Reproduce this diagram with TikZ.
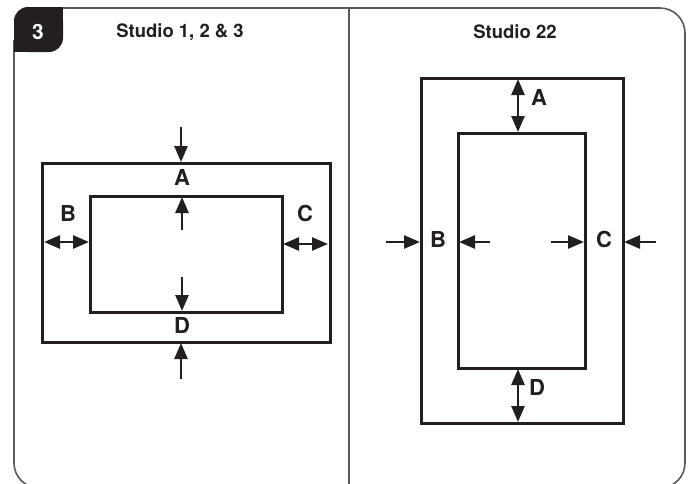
\documentclass[tikz,border=0pt]{standalone}
\usepackage{fontspec}
\setmainfont{TeX Gyre Heros}
\usetikzlibrary{arrows.meta}
\definecolor{ink}{HTML}{231F20}
\definecolor{framegray}{HTML}{5A5A5A}
\tikzset{
  box/.style={draw=ink, line width=3pt},
  frameline/.style={draw=framegray, line width=1.6pt},
  arr/.style={draw=ink, line width=2.6pt, -{Triangle[length=16pt,width=13pt]}},
  darr/.style={draw=ink, line width=2.6pt, {Triangle[length=16pt,width=13pt]}-{Triangle[length=16pt,width=13pt]}},
  lbl/.style={text=ink, font=\bfseries\fontsize{22}{24}\selectfont, inner sep=0pt},
  ttl/.style={text=ink, font=\bfseries\fontsize{18.5}{20}\selectfont, inner sep=0pt},
}
\begin{document}
\begin{tikzpicture}[x=1pt,y=-1pt]
\useasboundingbox (0,0) rectangle (694,483);
% frame
\draw[frameline, rounded corners=25pt] (63,8) -- (685,8) -- (685,488) -- (14,488) -- (14,40);
\draw[frameline] (349,8) -- (349,490);
% tab
\fill[ink, rounded corners=14pt] (14,7) rectangle (63,52);
\fill[ink] (45,7) rectangle (63,25);
\fill[ink] (14,34) rectangle (32,52);
\node[text=white, font=\bfseries\fontsize{21}{22}\selectfont, inner sep=0pt] (num) at (38,32) {3};
\node[ttl] (t1) at (180,32) {Studio 1, 2 \& 3};
\node[ttl] (t2) at (515,32) {Studio 22};
% left panel
\draw[box] (42,163) rectangle (330,342);
\draw[box] (90,196) rectangle (282,312);
\coordinate (aTop) at (181,127);
\coordinate (aTip) at (181,162);
\coordinate (iTail) at (182,230);
\coordinate (iTip) at (182,197);
\coordinate (dTail) at (182,277);
\coordinate (dTip) at (182,311);
\coordinate (bTail) at (181,379);
\coordinate (bTip) at (181,343);
\coordinate (bl1) at (44,242);
\coordinate (bl2) at (89,242);
\coordinate (cl1) at (283,244);
\coordinate (cl2) at (328,244);
\draw[arr] (aTop) -- (aTip);
\draw[arr] (iTail) -- (iTip);
\draw[arr] (dTail) -- (dTip);
\draw[arr] (bTail) -- (bTip);
\draw[darr] (bl1) -- (bl2);
\draw[darr] (cl1) -- (cl2);
\node[lbl] (LA) at (182,177) {A};
\node[lbl] (LD) at (182,325) {D};
\node[lbl] (LB) at (68,213) {B};
\node[lbl] (LC) at (305,213) {C};
% right panel
\draw[box] (421,78) rectangle (623,423);
\draw[box] (458,133) rectangle (585,368);
\coordinate (ra1) at (518,79);
\coordinate (ra2) at (518,132);
\coordinate (rd1) at (518,369);
\coordinate (rd2) at (518,422);
\coordinate (rb1) at (386,242);
\coordinate (rb2) at (420,242);
\coordinate (rb3) at (490,242);
\coordinate (rb4) at (459,242);
\coordinate (rc1) at (551,242);
\coordinate (rc2) at (584,242);
\coordinate (rc3) at (656,242);
\coordinate (rc4) at (624,242);
\draw[darr] (ra1) -- (ra2);
\draw[darr] (rd1) -- (rd2);
\draw[arr] (rb1) -- (rb2);
\draw[arr] (rb3) -- (rb4);
\draw[arr] (rc1) -- (rc2);
\draw[arr] (rc3) -- (rc4);
\node[lbl] (RA) at (539,97) {A};
\node[lbl] (RD) at (537,387) {D};
\node[lbl] (RB) at (438,239) {B};
\node[lbl] (RC) at (604,239) {C};
\end{tikzpicture}
\end{document}
